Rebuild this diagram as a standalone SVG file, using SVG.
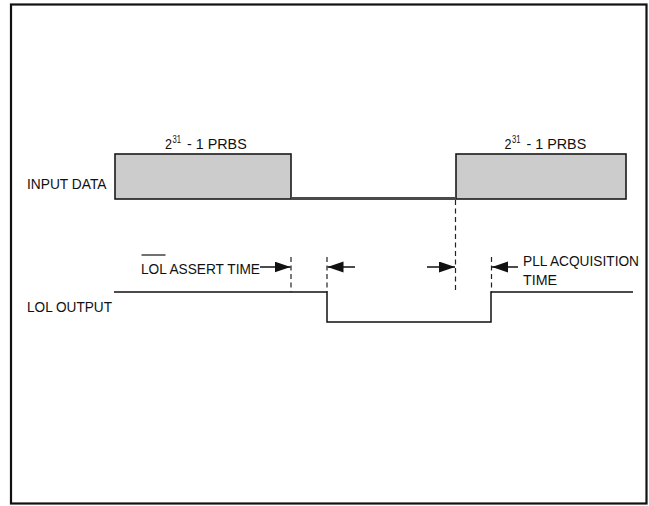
<svg xmlns="http://www.w3.org/2000/svg" width="649" height="506" viewBox="0 0 649 506">
<style>
.t{font-family:"Liberation Sans",Arial,sans-serif;font-size:15.5px;fill:#111}
.sup{font-family:"Liberation Sans",Arial,sans-serif;font-size:10px;fill:#111}
.box{fill:#cccccc;stroke:#1a1a1a;stroke-width:1.6}
.sig{fill:none;stroke:#111;stroke-width:1.5}
.dash{fill:none;stroke:#222;stroke-width:1.2;stroke-dasharray:5 3.5}
.arr{fill:none;stroke:#111;stroke-width:1.5;marker-end:url(#ah)}
</style>
<defs>
<marker id="ah" markerUnits="userSpaceOnUse" markerWidth="17" markerHeight="12" refX="16" refY="5.5" orient="auto">
<path d="M0,0 L16,5.5 L0,11 Z" fill="#111"/>
</marker>
</defs>
<rect x="11" y="4.5" width="635.5" height="499" fill="#fff" stroke="#111" stroke-width="2.2"/>
<g id="input-data-label"><text class="t" x="27" y="188.5" textLength="79.5" lengthAdjust="spacingAndGlyphs">INPUT DATA</text></g>
<g id="lol-output-label"><text class="t" x="27" y="311.5" textLength="85" lengthAdjust="spacingAndGlyphs">LOL OUTPUT</text></g>
<g id="prbs-1">
<rect class="box" x="115" y="154" width="176" height="45"/>
<text class="t" x="165" y="148.5" textLength="7" lengthAdjust="spacingAndGlyphs">2</text>
<text class="sup" x="172.5" y="142.5" textLength="8.5" lengthAdjust="spacingAndGlyphs">31</text>
<text class="t" x="187" y="148.5" textLength="59.7" lengthAdjust="spacingAndGlyphs">- 1 PRBS</text>
</g>
<g id="prbs-2">
<rect class="box" x="456" y="154" width="170" height="45"/>
<text class="t" x="504.5" y="148.5" textLength="7" lengthAdjust="spacingAndGlyphs">2</text>
<text class="sup" x="512" y="142.5" textLength="8.5" lengthAdjust="spacingAndGlyphs">31</text>
<text class="t" x="526.5" y="148.5" textLength="59.7" lengthAdjust="spacingAndGlyphs">- 1 PRBS</text>
</g>
<g id="lol-assert-label">
<text class="t" x="141" y="273.5" textLength="119" lengthAdjust="spacingAndGlyphs">LOL ASSERT TIME</text>
<line x1="141.5" y1="255" x2="165.5" y2="255" stroke="#111" stroke-width="1.2"/>
</g>
<g id="pll-label">
<text class="t" x="523" y="265.5" textLength="116" lengthAdjust="spacingAndGlyphs">PLL ACQUISITION</text>
<text class="t" x="523" y="285" textLength="34" lengthAdjust="spacingAndGlyphs">TIME</text>
</g>
<g id="connectors">
<line x1="291" y1="198.5" x2="456" y2="198.5" stroke="#4a4a4a" stroke-width="3"/>
<polyline class="sig" points="114,292 327,292 327,322 491,322 491,292 633,292"/>
<line class="dash" x1="291" y1="257" x2="291" y2="292"/>
<line class="dash" x1="327" y1="257" x2="327" y2="292"/>
<line class="dash" x1="455.5" y1="200" x2="455.5" y2="292"/>
<line class="dash" x1="491.5" y1="257" x2="491.5" y2="292"/>
<line class="arr" x1="260" y1="267" x2="290.5" y2="267"/>
<line class="arr" x1="355" y1="267" x2="327.5" y2="267"/>
<line class="arr" x1="427" y1="267" x2="455" y2="267"/>
<line class="arr" x1="518" y1="267" x2="492" y2="267"/>
</g>
</svg>
